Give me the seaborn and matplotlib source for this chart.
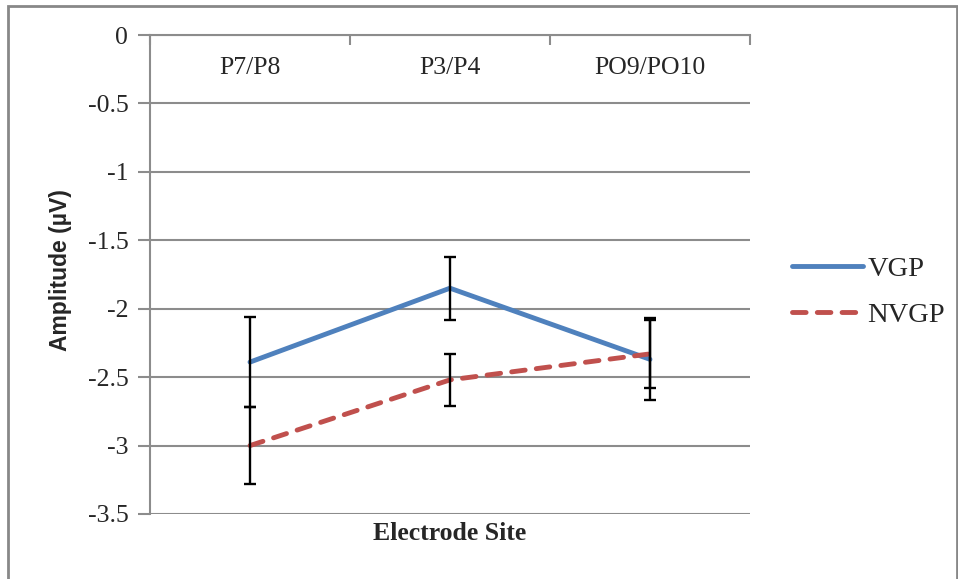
import matplotlib
matplotlib.use("Agg")
import matplotlib.pyplot as plt
import seaborn as sns
import pandas as pd
from matplotlib.patches import Rectangle
from matplotlib.lines import Line2D

sites = ["P7/P8", "P3/P4", "PO9/PO10"]
groups = ["VGP", "NVGP"]
vgp_vals = [-2.39, -1.85, -2.37]
vgp_err = [0.33, 0.23, 0.30]
nvgp_vals = [-3.00, -2.52, -2.33]
nvgp_err = [0.28, 0.19, 0.25]
yticks = [0, -0.5, -1, -1.5, -2, -2.5, -3, -3.5]
ytick_labels = ["0", "-0.5", "-1", "-1.5", "-2", "-2.5", "-3", "-3.5"]

df = pd.DataFrame({
    "site": sites * 2,
    "x": list(range(len(sites))) * 2,
    "amp": vgp_vals + nvgp_vals,
    "err": vgp_err + nvgp_err,
    "group": ["VGP"] * 3 + ["NVGP"] * 3,
})

sns.set_theme(style="white")
plt.rcParams["font.family"] = ["Liberation Serif", "DejaVu Serif"]

fig = plt.figure(figsize=(9.58, 5.79), dpi=100)
ax = fig.add_axes([150 / 958, (579 - 514) / 579, 600 / 958, (514 - 35) / 579])

grid_c = "#8c8c8c"
for v in yticks:
    ax.axhline(v, color=grid_c, lw=1.5, zorder=0)

palette = {"VGP": "#4F81BD", "NVGP": "#C0504D"}
lw = 3.5
dash_pat = (2.8, 2.3)
sns.lineplot(data=df, x="x", y="amp", hue="group", style="group",
             palette=palette, dashes={"VGP": "", "NVGP": dash_pat},
             lw=lw, ax=ax, legend=False, zorder=2)
for ln in ax.lines:
    ln.set_solid_capstyle("round")
    ln.set_dash_capstyle("round")

for g in groups:
    sub = df[df["group"] == g]
    ax.errorbar(sub["x"], sub["amp"], yerr=sub["err"], fmt="none",
                ecolor="black", elinewidth=1.7, capsize=4.2, capthick=1.7, zorder=3)

ax.set_xlim(-0.5, 2.5)
ax.set_ylim(-3.5, 0)
ax.set_yticks(yticks)
ax.set_yticklabels(ytick_labels, fontsize=18.5)
ax.tick_params(axis="y", direction="out", length=8.6, width=1.5, color=grid_c, pad=7, left=True)

ax.xaxis.set_ticks_position("top")
ax.set_xticks([0, 1, 2])
ax.set_xticklabels(sites, fontsize=18.5)
ax.tick_params(axis="x", which="major", length=0, pad=-32, top=True, bottom=False)
ax.set_xticks([-0.5, 0.5, 1.5, 2.5], minor=True)
ax.tick_params(axis="x", which="minor", direction="in", length=7, width=1.5,
               color=grid_c, top=True, bottom=False)

for s in ["right", "bottom"]:
    ax.spines[s].set_visible(False)
for s in ["left", "top"]:
    ax.spines[s].set_color(grid_c)
    ax.spines[s].set_linewidth(1.5)

ax.set_xlabel("")
ax.set_ylabel("")
fig.text(450 / 958, 1 - 534 / 579, "Electrode Site", ha="center", va="center",
         fontsize=18.5, fontweight="bold")
fig.text(61 / 958, 1 - 270 / 579, "Amplitude (µV)", ha="center", va="center",
         rotation=90, fontsize=16.5, fontweight="bold",
         family=["Liberation Sans", "DejaVu Sans"])

handles = [Line2D([], [], color=palette["VGP"], lw=lw, solid_capstyle="round"),
           Line2D([], [], color=palette["NVGP"], lw=lw, dashes=dash_pat,
                  dash_capstyle="round")]
fig.legend(handles, groups, loc="center left", bbox_to_anchor=(792 / 958, 1 - 292 / 579),
           frameon=False, fontsize=20.5, handlelength=2.5, handletextpad=0.15,
           labelspacing=0.72, borderpad=0, borderaxespad=0)

fig.patches.append(Rectangle((8 / 958, -0.1), (957 - 8) / 958, 1 - 6 / 579 + 0.1,
                             transform=fig.transFigure, fill=False,
                             edgecolor="#888888", lw=2, zorder=10))

fig.savefig("out.png", dpi=100)
